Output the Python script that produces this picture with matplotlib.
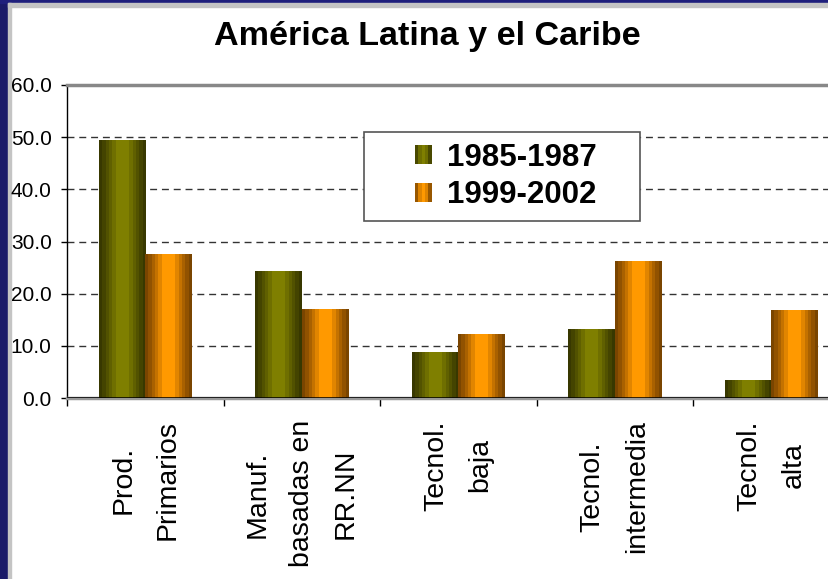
import numpy as np
import matplotlib.pyplot as plt
from matplotlib.patches import Rectangle
from matplotlib.colors import LinearSegmentedColormap
from matplotlib.legend_handler import HandlerBase

plt.rcParams['font.family'] = ['Liberation Sans', 'DejaVu Sans']

# data
categories = ['Prod.\nPrimarios', 'Manuf.\nbasadas en\nRR.NN', 'Tecnol.\nbaja',
              'Tecnol.\nintermedia', 'Tecnol.\nalta']
series = ['1985-1987', '1999-2002']
v_1985 = [49.4, 24.3, 8.8, 13.2, 3.3]
v_1999 = [27.6, 17.0, 12.1, 26.1, 16.7]
yticks = [0, 10, 20, 30, 40, 50, 60]

green = LinearSegmentedColormap.from_list('g', [(0, '#383800'), (0.2, '#5a5a00'), (0.38, '#7f7f00'),
                                                (0.62, '#7f7f00'), (0.8, '#5a5a00'), (1, '#383800')])
orange = LinearSegmentedColormap.from_list('o', [(0, '#7a4500'), (0.2, '#b86a00'), (0.38, '#ff9900'),
                                                 (0.62, '#ff9900'), (0.8, '#b86a00'), (1, '#7a4500')])


class GradHandler(HandlerBase):
    def __init__(self, cmap):
        super().__init__()
        self.cmap = cmap

    def create_artists(self, legend, orig_handle, xd, yd, w, h, fontsize, trans):
        n = 5
        out = []
        for i in range(n):
            out.append(Rectangle((-xd + i * w / n, -yd), w / n, h, facecolor=self.cmap((i + 0.5) / n),
                                 edgecolor='none', transform=trans))
        return out


W, H = 829, 579
fig = plt.figure(figsize=(W / 100, H / 100), dpi=100)

# slide frame
fig.add_artist(Rectangle((0, 0), 8 / W, 1, transform=fig.transFigure, color='#1a1a68', zorder=0))
fig.add_artist(Rectangle((0, 1 - 3.3 / H), 1, 3.3 / H, transform=fig.transFigure, color='#1f1f7c', zorder=0))
fig.add_artist(Rectangle((8 / W, 0), 3.3 / W, 1 - 3.3 / H, transform=fig.transFigure, color='#c4c4c4', zorder=0))
fig.add_artist(Rectangle((8 / W, 1 - 6.5 / H), 1, 3.2 / H, transform=fig.transFigure, color='#c4c4c4', zorder=0))

fig.text(427 / W, 1 - 45 / H, 'América Latina y el Caribe', ha='center', va='baseline',
         fontsize=24.6, fontweight='bold')

ax = fig.add_axes([67 / W, 1 - 398 / H, 782.5 / W, 313 / H])

x = np.arange(len(categories))
bw = 0.297
grad = np.linspace(0, 1, 14).reshape(1, -1)
for vals, cmap, off in [(v_1985, green, -bw / 2), (v_1999, orange, bw / 2)]:
    bars = ax.bar(x + off, vals, bw, color=cmap(0.5), zorder=2)
    for b in bars:
        ax.imshow(grad, cmap=cmap, aspect='auto', interpolation='nearest', zorder=3,
                  extent=[b.get_x(), b.get_x() + b.get_width(), 0, b.get_height()])

ax.set_xlim(-0.5, 4.5)
ax.set_ylim(0, 60)

ax.set_yticks(yticks)
ax.set_yticklabels([f'{v:.1f}' for v in yticks], fontsize=15)
ax.tick_params(axis='y', direction='out', length=4, width=1, pad=7)

ax.set_xticks(x)
ax.set_xticklabels(categories, rotation=90, fontsize=20.5, linespacing=1.9)
for t in ax.get_xticklabels():
    t.set_multialignment('center')
ax.tick_params(axis='x', which='major', length=0, pad=16)
ax.set_xticks(np.arange(-0.5, 5, 1), minor=True)
ax.tick_params(axis='x', which='minor', length=6, width=1, direction='out')

ax.set_axisbelow(True)
ax.grid(axis='y', color='#333333', lw=1, dashes=(5, 3.5))
ax.spines['top'].set_color('#888888')
ax.spines['top'].set_linewidth(2.5)
ax.spines['bottom'].set_color('#999999')
ax.spines['bottom'].set_linewidth(2.5)
ax.spines['right'].set_visible(False)
ax.spines['left'].set_linewidth(1)
ax.axhline(0, color='black', lw=1.1, zorder=5)

# legend box
bx0, by0 = (364 - 67) / 782.5, (398 - 221) / 313
bw_, bh_ = (640 - 364) / 782.5, (221 - 132) / 313
ax.add_patch(Rectangle((bx0, by0), bw_, bh_, transform=ax.transAxes, facecolor='white',
                       edgecolor='#555555', lw=1.2, zorder=6))
p1 = Rectangle((0, 0), 1, 1)
p2 = Rectangle((0, 0), 1, 1)
leg = ax.legend([p1, p2], series, handler_map={p1: GradHandler(green), p2: GradHandler(orange)},
                loc='center', bbox_to_anchor=(bx0 + bw_ / 2 + 0.005, by0 + bh_ / 2), frameon=False,
                prop={'weight': 'bold', 'size': 22.5}, handlelength=0.55, handleheight=0.55,
                handletextpad=0.5, labelspacing=0.25)
leg.set_zorder(7)

fig.savefig('out.png', dpi=100)
